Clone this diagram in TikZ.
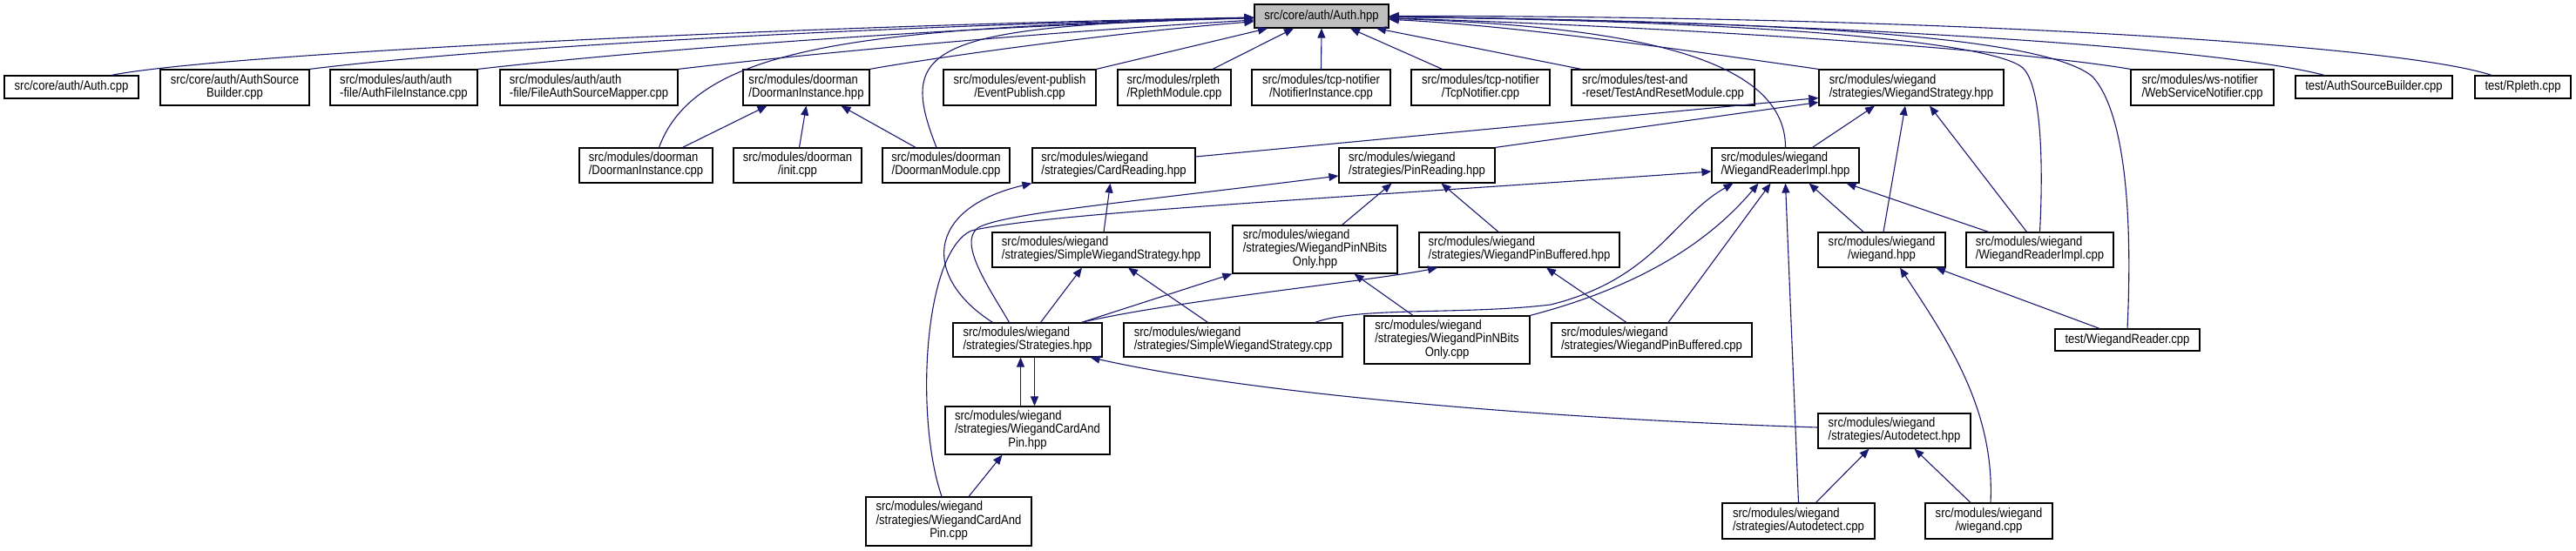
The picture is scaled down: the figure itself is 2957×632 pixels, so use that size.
\documentclass[tikz,border=0pt]{standalone}
\usepackage{fontspec}
\setmainfont{Liberation Sans}[FakeStretch=0.87]
\usepackage{tikz}
\usetikzlibrary{arrows.meta}
\definecolor{edgeblue}{RGB}{25,25,112}
\definecolor{rootgray}{RGB}{191,191,191}
\newcommand{\twoln}[2]{\begin{tabular}{@{}l@{}}#1\\\multicolumn{1}{@{}c@{}}{#2}\end{tabular}}
\newcommand{\threeln}[3]{\begin{tabular}{@{}l@{}}#1\\#2\\\multicolumn{1}{@{}c@{}}{#3}\end{tabular}}

\begin{document}
\begin{tikzpicture}[x=1pt, y=-1pt,
  filebox/.style 2 args={draw=black, line width=1.2pt, fill=white, inner sep=0pt,
    minimum width=#1pt, minimum height=#2pt, font=\fontsize{15}{15}\selectfont},
  dep/.style={draw=edgeblue, line width=1.1pt, {Triangle[length=11pt,width=9pt]}-}]
\useasboundingbox (0,0) rectangle (2957,632);
% the header everything depends on
\node[filebox={154}{27}, fill=rootgray] (authhpp) at (1517, 18.5) {src/core/auth/Auth.hpp};
% direct includers
\node[filebox={154}{26}] (authcpp) at (82, 100) {src/core/auth/Auth.cpp};
\node[filebox={171}{41}] (authsrcbuilder) at (269.5, 100.5) {\twoln{src/core/auth/AuthSource}{Builder.cpp}};
\node[filebox={169}{41}] (authfileinst) at (463.5, 100.5) {\twoln{src/modules/auth/auth}{-file/AuthFileInstance.cpp}};
\node[filebox={204}{41}] (fileauthmapper) at (676, 100.5) {\twoln{src/modules/auth/auth}{-file/FileAuthSourceMapper.cpp}};
\node[filebox={145}{41}] (doormaninsthpp) at (925.5, 100.5) {\twoln{src/modules/doorman}{/DoormanInstance.hpp}};
\node[filebox={175}{41}] (eventpublish) at (1170.5, 100.5) {\twoln{src/modules/event-publish}{/EventPublish.cpp}};
\node[filebox={130}{41}] (rplethmodule) at (1348, 100.5) {\twoln{src/modules/rpleth}{/RplethModule.cpp}};
\node[filebox={159}{41}] (notifierinst) at (1516.5, 100.5) {\twoln{src/modules/tcp-notifier}{/NotifierInstance.cpp}};
\node[filebox={159}{41}] (tcpnotifier) at (1699.5, 100.5) {\twoln{src/modules/tcp-notifier}{/TcpNotifier.cpp}};
\node[filebox={210}{41}] (testreset) at (1909, 100.5) {\twoln{src/modules/test-and}{-reset/TestAndResetModule.cpp}};
\node[filebox={212}{41}] (wiegstrat) at (2194, 100.5) {\twoln{src/modules/wiegand}{/strategies/WiegandStrategy.hpp}};
\node[filebox={164}{41}] (wsnotifier) at (2528, 100.5) {\twoln{src/modules/ws-notifier}{/WebServiceNotifier.cpp}};
\node[filebox={180}{26}] (testasb) at (2725, 100) {test/AuthSourceBuilder.cpp};
\node[filebox={110}{26}] (testrpleth) at (2896, 100) {test/Rpleth.cpp};
% third row
\node[filebox={153}{40}] (doormaninstcpp) at (741.5, 190) {\twoln{src/modules/doorman}{/DoormanInstance.cpp}};
\node[filebox={147}{40}] (initcpp) at (915.5, 190) {\twoln{src/modules/doorman}{/init.cpp}};
\node[filebox={146}{40}] (doormanmodule) at (1086, 190) {\twoln{src/modules/doorman}{/DoormanModule.cpp}};
\node[filebox={187}{40}] (cardreading) at (1278.5, 190) {\twoln{src/modules/wiegand}{/strategies/CardReading.hpp}};
\node[filebox={179}{40}] (pinreading) at (1626.5, 190) {\twoln{src/modules/wiegand}{/strategies/PinReading.hpp}};
\node[filebox={169}{40}] (wrihpp) at (2049.5, 190) {\twoln{src/modules/wiegand}{/WiegandReaderImpl.hpp}};
% strategy headers
\node[filebox={250}{40}] (simplehpp) at (1264, 287) {\twoln{src/modules/wiegand}{/strategies/SimpleWiegandStrategy.hpp}};
\node[filebox={189}{55}] (nbitshpp) at (1509.5, 286.5) {\threeln{src/modules/wiegand}{/strategies/WiegandPinNBits}{Only.hpp}};
\node[filebox={230}{40}] (bufferedhpp) at (1744, 287) {\twoln{src/modules/wiegand}{/strategies/WiegandPinBuffered.hpp}};
\node[filebox={146}{40}] (wieghpp) at (2160, 287) {\twoln{src/modules/wiegand}{/wiegand.hpp}};
\node[filebox={169}{40}] (wricpp) at (2341.5, 287) {\twoln{src/modules/wiegand}{/WiegandReaderImpl.cpp}};
% strategy sources
\node[filebox={171}{39}] (strategies) at (1179.5, 390.5) {\twoln{src/modules/wiegand}{/strategies/Strategies.hpp}};
\node[filebox={251}{39}] (simplecpp) at (1415.5, 390.5) {\twoln{src/modules/wiegand}{/strategies/SimpleWiegandStrategy.cpp}};
\node[filebox={190}{55}] (nbitscpp) at (1661, 390.5) {\threeln{src/modules/wiegand}{/strategies/WiegandPinNBits}{Only.cpp}};
\node[filebox={230}{39}] (bufferedcpp) at (1896, 390.5) {\twoln{src/modules/wiegand}{/strategies/WiegandPinBuffered.cpp}};
\node[filebox={166}{25}] (testwr) at (2442, 390.5) {test/WiegandReader.cpp};
\node[filebox={189}{55}] (wcaphpp) at (1179.5, 494.5) {\threeln{src/modules/wiegand}{/strategies/WiegandCardAnd}{Pin.hpp}};
\node[filebox={175}{40}] (autohpp) at (2174.5, 495) {\twoln{src/modules/wiegand}{/strategies/Autodetect.hpp}};
\node[filebox={190}{56}] (wcapcpp) at (1089, 599) {\threeln{src/modules/wiegand}{/strategies/WiegandCardAnd}{Pin.cpp}};
\node[filebox={175}{41}] (autocpp) at (2064.5, 598.5) {\twoln{src/modules/wiegand}{/strategies/Autodetect.cpp}};
\node[filebox={146}{41}] (wiegcpp) at (2283, 598.5) {\twoln{src/modules/wiegand}{/wiegand.cpp}};

% Auth.hpp, left fan
\draw[dep] (authhpp) .. controls (900,30) and (250,62) .. ([xshift=46pt]authcpp.north);
\draw[dep] (authhpp) .. controls (1000,30) and (550,55) .. (authsrcbuilder.north east);
\draw[dep] (authhpp) .. controls (1050,32) and (700,62) .. (authfileinst.north east);
\draw[dep] (authhpp) .. controls (1150,40) and (900,65) .. (fileauthmapper.north east);
\draw[dep] (authhpp) .. controls (1250,40) and (1050,70) .. (doormaninsthpp.north east);
\draw[dep] (authhpp) .. controls (1000,32) and (800,50) .. ([xshift=15pt]doormaninstcpp.north);
\draw[dep] (authhpp) .. controls (1060,30) and (1030,55) .. ([xshift=-11pt]doormanmodule.north);
% Auth.hpp, straight down
\draw[dep] ([xshift=-62pt]authhpp.south) -- (eventpublish.north east);
\draw[dep] ([xshift=-32pt]authhpp.south) -- ([xshift=44pt]rplethmodule.north);
\draw[dep] (authhpp.south) -- (notifierinst.north);
\draw[dep] ([xshift=33pt]authhpp.south) -- ([xshift=-44pt]tcpnotifier.north);
\draw[dep] ([xshift=63pt]authhpp.south) -- ([xshift=-94pt]testreset.north);
% Auth.hpp, right fan
\draw[dep] (authhpp) .. controls (1750,30) and (1950,60) .. (wiegstrat.north west);
\draw[dep] (authhpp) .. controls (1850,30) and (2050,60) .. (wrihpp.north);
\draw[dep] (authhpp) .. controls (2050,25) and (2290,50) .. (2322,78) .. controls (2345,100) and (2345,200) .. (wricpp.north);
\draw[dep] (authhpp) .. controls (2100,25) and (2350,45) .. (2402,88) .. controls (2440,130) and (2448,250) .. (testwr.north);
\draw[dep] (authhpp) .. controls (1900,30) and (2300,55) .. (wsnotifier.north west);
\draw[dep] (authhpp) .. controls (2100,25) and (2550,55) .. ([xshift=-57pt]testasb.north);
\draw[dep] (authhpp) .. controls (2200,18) and (2750,50) .. ([xshift=-36pt]testrpleth.north);
% doorman
\draw[dep] ([xshift=-45pt]doormaninsthpp.south) -- ([xshift=42pt]doormaninstcpp.north);
\draw[dep] (doormaninsthpp.south) -- ([xshift=2pt]initcpp.north);
\draw[dep] ([xshift=40pt]doormaninsthpp.south) -- ([xshift=-35pt]doormanmodule.north);
% WiegandStrategy.hpp
\draw[dep] ([yshift=-12pt]wiegstrat.west) -- ([yshift=10pt]cardreading.east);
\draw[dep] ([yshift=-17pt]wiegstrat.west) -- (pinreading.north east);
\draw[dep] ([xshift=-42pt]wiegstrat.south) -- ([xshift=31pt]wrihpp.north);
\draw[dep] ([xshift=-7pt]wiegstrat.south) -- ([xshift=2pt]wieghpp.north);
\draw[dep] ([xshift=21pt]wiegstrat.south) -- ([xshift=-15pt]wricpp.north);
% CardReading.hpp and PinReading.hpp
\draw[dep] (cardreading.south west) .. controls (1060,240) and (1060,320) .. ([xshift=-40pt]strategies.north);
\draw[dep] ([xshift=-4pt]cardreading.south) -- ([xshift=3pt]simplehpp.north);
\draw[dep] ([yshift=-12pt]pinreading.west) .. controls (1300,232) and (1150,245) .. (1122,262) .. controls (1100,280) and (1135,330) .. ([xshift=-21pt]strategies.north);
\draw[dep] ([xshift=-29pt]pinreading.south) -- ([xshift=31pt]nbitshpp.north);
\draw[dep] ([xshift=28pt]pinreading.south) -- ([xshift=-24pt]bufferedhpp.north);
% WiegandReaderImpl.hpp
\draw[dep] ([yshift=-7pt]wrihpp.west) .. controls (1500,230) and (1200,245) .. (1115,265) .. controls (1060,290) and (1050,480) .. ([xshift=-8pt]wcapcpp.north);
\draw[dep] ([xshift=-60pt]wrihpp.south) .. controls (1920,250) and (1900,320) .. (1780,350) .. controls (1680,362) and (1560,352) .. ([xshift=94pt]simplecpp.north);
\draw[dep] ([xshift=-31pt]wrihpp.south) .. controls (1960,280) and (1880,330) .. (nbitscpp.north east);
\draw[dep] ([xshift=-17pt]wrihpp.south) -- ([xshift=19pt]bufferedcpp.north);
\draw[dep] (wrihpp.south) -- (autocpp.north);
\draw[dep] ([xshift=27pt]wrihpp.south) -- ([xshift=-21pt]wieghpp.north);
\draw[dep] ([xshift=70pt]wrihpp.south) -- ([xshift=-59pt]wricpp.north);
% strategy headers to their sources
\draw[dep] ([xshift=-22pt]simplehpp.south) -- ([xshift=15pt]strategies.north);
\draw[dep] ([xshift=31pt]simplehpp.south) -- ([xshift=-29pt]simplecpp.north);
\draw[dep] (nbitshpp.south west) -- ([xshift=62pt]strategies.north);
\draw[dep] ([xshift=45pt]nbitshpp.south) -- ([xshift=-39pt]nbitscpp.north);
\draw[dep] ([xshift=-94pt]bufferedhpp.south) .. controls (1580,322) and (1350,345) .. ([xshift=62pt]strategies.north);
\draw[dep] ([xshift=31pt]bufferedhpp.south) -- ([xshift=-29pt]bufferedcpp.north);
% Strategies.hpp and WiegandCardAndPin.hpp include each other
\draw[dep] ([xshift=-8pt]strategies.south) -- ([xshift=-8pt]wcaphpp.north);
\draw[dep] ([xshift=8pt]wcaphpp.north) -- ([xshift=8pt]strategies.south);
\draw[dep] ([xshift=72pt]strategies.south) .. controls (1450,455) and (1800,482) .. ([yshift=4pt]autohpp.west);
\draw[dep] ([xshift=-29pt]wcaphpp.south) -- ([xshift=23pt]wcapcpp.north);
% Autodetect.hpp and wiegand.hpp
\draw[dep] ([xshift=-29pt]autohpp.south) -- ([xshift=20pt]autocpp.north);
\draw[dep] ([xshift=23pt]autohpp.south) -- ([xshift=-21pt]wiegcpp.north);
\draw[dep] ([xshift=21pt]wieghpp.south) .. controls (2235,390) and (2290,470) .. ([xshift=2pt]wiegcpp.north);
\draw[dep] ([xshift=62pt]wieghpp.south) -- ([xshift=-32pt]testwr.north);
\end{tikzpicture}
\end{document}
